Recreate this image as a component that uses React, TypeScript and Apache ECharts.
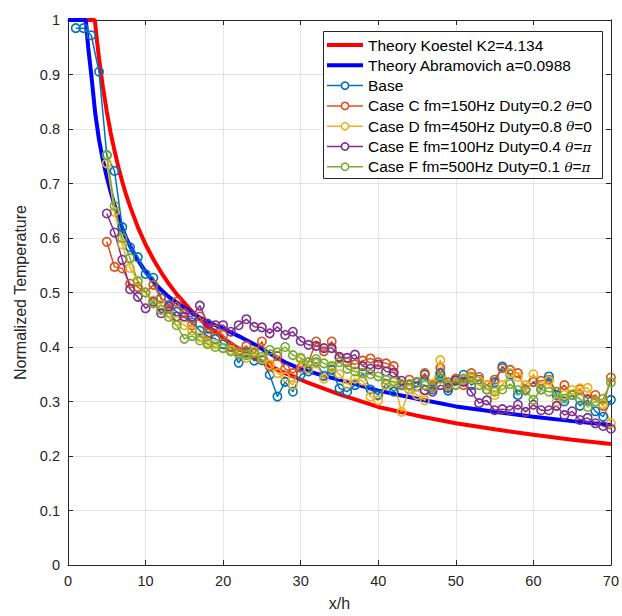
import React, { useEffect, useRef } from "react";
import * as echarts from "echarts";

// ---- Theory curves ----
const koestelX = [0, 1, 2, 3, 3.46, 3.75, 4, 4.5, 5, 5.5, 6, 6.5, 7, 7.5, 8, 9, 10, 11, 12, 13, 14, 16, 18, 20, 22, 25, 28, 31, 35, 40, 45, 50, 55, 60, 65, 70];
const koestelY = [1, 1, 1, 1, 1, 0.96, 0.93, 0.877, 0.832, 0.793, 0.76, 0.73, 0.703, 0.679, 0.658, 0.62, 0.588, 0.561, 0.537, 0.516, 0.497, 0.465, 0.438, 0.416, 0.397, 0.372, 0.352, 0.334, 0.313, 0.29, 0.274, 0.26, 0.249, 0.239, 0.23, 0.222];

const abramX = [0, 1, 2, 2.3, 2.6, 3, 3.5, 4, 4.5, 5, 5.5, 6, 6.5, 7, 7.5, 8, 9, 10, 11, 12, 13, 14, 16, 18, 20, 22, 24, 26, 28, 30, 33, 36, 40, 45, 50, 55, 60, 65, 70];
const abramY = [1, 1, 1, 1, 0.95, 0.9, 0.83, 0.78, 0.743, 0.712, 0.685, 0.66, 0.638, 0.618, 0.6, 0.585, 0.56, 0.538, 0.52, 0.505, 0.492, 0.482, 0.462, 0.446, 0.434, 0.42, 0.405, 0.388, 0.372, 0.36, 0.347, 0.336, 0.32, 0.305, 0.291, 0.281, 0.272, 0.264, 0.257];

// ---- Measured series ----
const baseStart = 1;
const baseY = [0.985, 0.985, 0.972, 0.905, 0.752, 0.723, 0.62, 0.583, 0.565, 0.534, 0.527, 0.49, 0.477, 0.465, 0.455, 0.445, 0.43, 0.42, 0.415, 0.405, 0.4, 0.371, 0.39, 0.375, 0.376, 0.349, 0.309, 0.336, 0.318, 0.349, 0.355, 0.372, 0.347, 0.358, 0.324, 0.318, 0.33, 0.352, 0.322, 0.312, 0.332, 0.318, 0.33, 0.322, 0.328, 0.349, 0.322, 0.352, 0.32, 0.338, 0.349, 0.33, 0.34, 0.322, 0.335, 0.364, 0.35, 0.312, 0.322, 0.336, 0.322, 0.346, 0.312, 0.3, 0.312, 0.292, 0.303, 0.282, 0.272, 0.303];

const caseStart = 5;
const caseCY = [0.593, 0.547, 0.544, 0.516, 0.51, 0.5, 0.514, 0.489, 0.47, 0.483, 0.462, 0.44, 0.456, 0.425, 0.432, 0.422, 0.4, 0.392, 0.402, 0.388, 0.41, 0.365, 0.383, 0.36, 0.352, 0.362, 0.372, 0.41, 0.392, 0.41, 0.38, 0.372, 0.368, 0.375, 0.379, 0.372, 0.37, 0.365, 0.33, 0.34, 0.335, 0.352, 0.33, 0.362, 0.335, 0.342, 0.33, 0.352, 0.345, 0.33, 0.34, 0.361, 0.358, 0.352, 0.322, 0.336, 0.338, 0.34, 0.318, 0.33, 0.312, 0.322, 0.305, 0.312, 0.292, 0.344];
const caseDY = [0.737, 0.648, 0.588, 0.545, 0.522, 0.5, 0.485, 0.478, 0.462, 0.448, 0.44, 0.43, 0.418, 0.408, 0.405, 0.398, 0.395, 0.388, 0.38, 0.392, 0.378, 0.368, 0.352, 0.345, 0.33, 0.378, 0.36, 0.37, 0.342, 0.362, 0.35, 0.332, 0.342, 0.338, 0.309, 0.302, 0.33, 0.338, 0.281, 0.322, 0.312, 0.302, 0.332, 0.376, 0.33, 0.332, 0.34, 0.342, 0.338, 0.33, 0.312, 0.33, 0.352, 0.345, 0.33, 0.35, 0.327, 0.338, 0.3, 0.312, 0.321, 0.324, 0.325, 0.3, 0.295, 0.26];
const caseEY = [0.645, 0.61, 0.56, 0.506, 0.492, 0.471, 0.483, 0.462, 0.474, 0.456, 0.456, 0.456, 0.476, 0.443, 0.44, 0.44, 0.428, 0.44, 0.451, 0.437, 0.436, 0.425, 0.437, 0.422, 0.428, 0.411, 0.404, 0.402, 0.398, 0.398, 0.382, 0.38, 0.386, 0.365, 0.36, 0.368, 0.355, 0.353, 0.338, 0.33, 0.335, 0.321, 0.318, 0.33, 0.325, 0.339, 0.336, 0.318, 0.297, 0.302, 0.284, 0.286, 0.284, 0.294, 0.281, 0.294, 0.284, 0.284, 0.292, 0.275, 0.282, 0.266, 0.27, 0.26, 0.255, 0.25];
const caseFY = [0.752, 0.659, 0.6, 0.563, 0.52, 0.5, 0.48, 0.468, 0.455, 0.44, 0.415, 0.42, 0.412, 0.405, 0.4, 0.398, 0.392, 0.388, 0.385, 0.39, 0.382, 0.395, 0.39, 0.4, 0.385, 0.38, 0.372, 0.378, 0.37, 0.365, 0.372, 0.36, 0.355, 0.352, 0.35, 0.346, 0.34, 0.336, 0.332, 0.33, 0.336, 0.33, 0.326, 0.342, 0.33, 0.33, 0.342, 0.346, 0.33, 0.322, 0.318, 0.322, 0.332, 0.321, 0.32, 0.303, 0.322, 0.318, 0.318, 0.305, 0.312, 0.305, 0.29, 0.3, 0.305, 0.335];

const names = [
  "Theory Koestel K2=4.134",
  "Theory Abramovich a=0.0988",
  "Base",
  "Case C fm=150Hz Duty=0.2 θ=0",
  "Case D fm=450Hz Duty=0.8 θ=0",
  "Case E fm=100Hz Duty=0.4 θ=π",
  "Case F fm=500Hz Duty=0.1 θ=π",
];
const colors = ["#FF0000", "#0000FF", "#0072BD", "#D95319", "#EDB120", "#7E2F8E", "#77AC30"];
const hasMarker = [false, false, true, true, true, true, true];

const xTicks = { min: 0, max: 70, interval: 10 };
const yTicks = { min: 0, max: 1, interval: 0.1 };

const pairs = (xs: number[], ys: number[]) => xs.map((x, i) => [x, ys[i]]);
const seq = (start: number, ys: number[]) => ys.map((y, i) => [start + i, y]);

const FONT = "'Liberation Sans', Arial, Helvetica, sans-serif";
const AX = "#262626";

// legend layout
const LG = { x: 323, y: 31, w: 279, h: 147, row0: 45, rowGap: 20.3, lineX1: 327, lineX2: 363, textX: 368 };

function richLabel(n: string) {
  // split into plain (t) and italic greek (i) tokens
  return n
    .split(/([θπ])/)
    .filter((s) => s.length > 0)
    .map((s) => (s === "θ" || s === "π" ? `{i|${s}}` : `{t|${s}}`))
    .join("");
}

function buildLegend() {
  const Z = 100;
  const children: any[] = [
    {
      type: "rect",
      z: Z,
      shape: { x: LG.x + 0.5, y: LG.y + 0.5, width: LG.w, height: LG.h },
      style: { fill: "#ffffff", stroke: AX, lineWidth: 1 },
    },
  ];
  names.forEach((n, i) => {
    const cy = LG.row0 + i * LG.rowGap;
    children.push({
      type: "line",
      z: Z + 1,
      shape: { x1: LG.lineX1, y1: cy, x2: LG.lineX2, y2: cy },
      style: { stroke: colors[i], lineWidth: hasMarker[i] ? 1.5 : 4 },
    });
    if (hasMarker[i]) {
      children.push({
        type: "circle",
        z: Z + 2,
        shape: { cx: (LG.lineX1 + LG.lineX2) / 2, cy, r: 3.6 },
        style: { fill: "#ffffff", stroke: colors[i], lineWidth: 1.6 },
      });
    }
    children.push({
      type: "text",
      z: Z + 2,
      x: LG.textX,
      y: cy,
      style: {
        text: richLabel(n),
        fill: "#000",
        fontSize: 15.5,
        fontFamily: FONT,
        verticalAlign: "middle",
        align: "left",
        rich: {
          t: { fontSize: 15.5, fontFamily: FONT, fill: "#000" },
          i: { fontStyle: "italic", fontFamily: "'DejaVu Serif', serif", fontSize: 13.5, fill: "#000" },
        },
      },
    });
  });
  return [{ type: "group", z: Z, children }];
}

export default function App() {
  const ref = useRef<HTMLDivElement>(null);
  useEffect(() => {
    if (!ref.current) return;
    const chart = echarts.init(ref.current, null, { renderer: "svg" });
    const theory = (i: number, data: number[][]) => ({
      name: names[i],
      type: "line",
      data,
      symbol: "none",
      lineStyle: { color: colors[i], width: 4 },
      itemStyle: { color: colors[i] },
      xAxisIndex: 0,
      yAxisIndex: 0,
      z: 2,
    });
    const meas = (i: number, data: number[][]) => ({
      name: names[i],
      type: "line",
      data,
      symbol: "circle",
      symbolSize: 8.4,
      showSymbol: true,
      lineStyle: { color: colors[i], width: 1.5 },
      itemStyle: { color: "rgba(255,255,255,0)", borderColor: colors[i], borderWidth: 1.6 },
      xAxisIndex: 0,
      yAxisIndex: 0,
      z: 3,
    });
    const axisCommon = {
      axisLine: { show: true, onZero: false, lineStyle: { color: AX, width: 1 } },
      axisTick: { show: true, inside: true, length: 5, lineStyle: { color: AX } },
    };
    chart.setOption({
      animation: false,
      backgroundColor: "#ffffff",
      textStyle: { fontFamily: FONT },
      grid: { left: 68, right: 9, top: 20, bottom: 51, containLabel: false },
      xAxis: [
        {
          type: "value",
          ...xTicks,
          position: "bottom",
          ...axisCommon,
          axisLabel: { color: AX, fontSize: 14.5, margin: 8, fontFamily: FONT },
          splitLine: { show: true, lineStyle: { color: "#e3e3e3", width: 1 } },
          name: "x/h",
          nameLocation: "middle",
          nameGap: 30,
          nameTextStyle: { color: AX, fontSize: 16, fontFamily: FONT },
        },
        {
          type: "value",
          ...xTicks,
          position: "top",
          ...axisCommon,
          axisLabel: { show: false },
          splitLine: { show: false },
        },
      ],
      yAxis: [
        {
          type: "value",
          ...yTicks,
          position: "left",
          ...axisCommon,
          axisLabel: { color: AX, fontSize: 14.5, margin: 8, fontFamily: FONT },
          splitLine: { show: true, lineStyle: { color: "#e3e3e3", width: 1 } },
          name: "Normalized Temperature",
          nameLocation: "middle",
          nameGap: 38,
          nameTextStyle: { color: AX, fontSize: 16, fontFamily: FONT },
        },
        {
          type: "value",
          ...yTicks,
          position: "right",
          ...axisCommon,
          axisLabel: { show: false },
          splitLine: { show: false },
        },
      ],
      graphic: buildLegend(),
      series: [
        theory(0, pairs(koestelX, koestelY)),
        theory(1, pairs(abramX, abramY)),
        meas(2, seq(baseStart, baseY)),
        meas(3, seq(caseStart, caseCY)),
        meas(4, seq(caseStart, caseDY)),
        meas(5, seq(caseStart, caseEY)),
        meas(6, seq(caseStart, caseFY)),
      ],
    });
    return () => chart.dispose();
  }, []);
  return (
    <div
      ref={ref}
      style={{ position: "absolute", left: 0, top: 0, width: 622, height: 616, background: "#fff" }}
    />
  );
}
